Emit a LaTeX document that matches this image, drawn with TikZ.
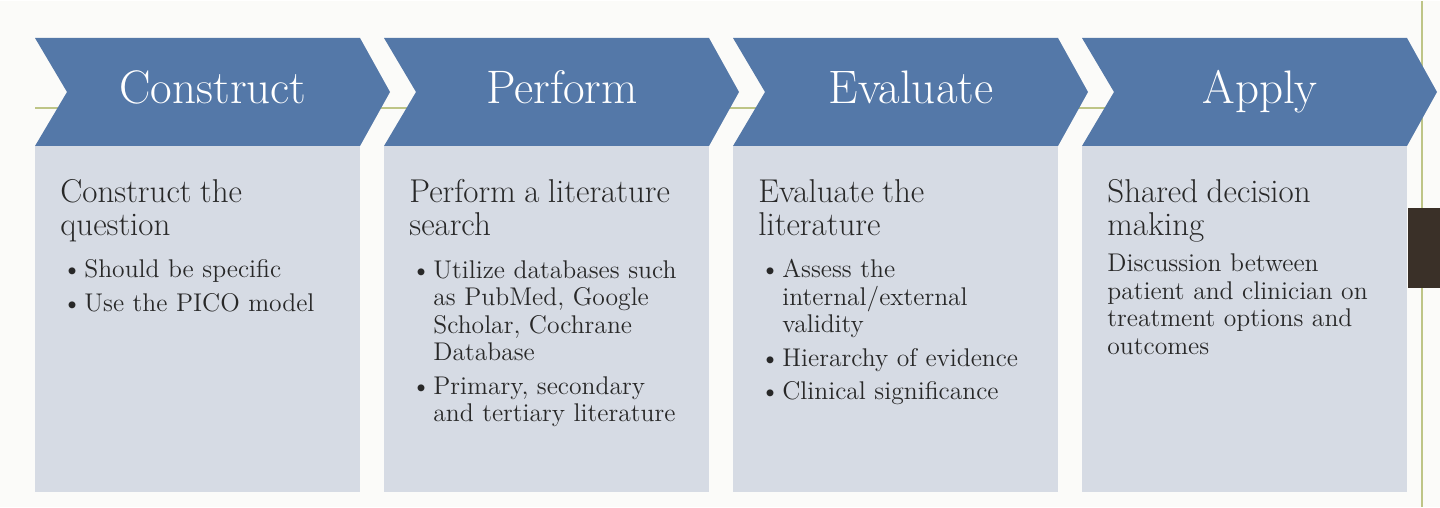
\documentclass[tikz,border=0pt]{standalone}
\usepackage{tikz}
\usetikzlibrary{positioning}
\definecolor{pagebg}{RGB}{251,251,249}
\definecolor{chevblue}{RGB}{84,120,168}
\definecolor{boxgray}{RGB}{214,219,228}
\definecolor{rulegreen}{RGB}{190,197,135}
\definecolor{tabbrown}{RGB}{58,48,40}
\definecolor{bodyink}{RGB}{40,40,40}
\newcommand{\bhead}[1]{{\fontsize{16.5}{16.5}\selectfont #1\par}\vspace{4.5pt}}
\newcommand{\bitem}[1]{\par\vspace{3pt}\noindent\hangindent=12pt\hangafter=1
					\hbox to 12pt{\hspace{1pt}\textbullet\hfil}#1\par}
\newcommand{\stepcol}[3]{\fill[chevblue] (0,37) -- (325,37) -- (355,91) -- (325,145) -- (0,145) -- (32,91) -- cycle;
					\fill[boxgray] (0,145) rectangle (325,491);
					\node[steptitle] (#1title) at (178,103) {#2};
					\node[stepbody] (#1body) at (25,178) {#3};}

\begin{document}
\begin{tikzpicture}[x=0.5pt, y=-0.5pt,
	steptitle/.style = {anchor=base, inner sep=0pt, text=white,
		font=\fontsize{23.5}{26}\selectfont},
	stepbody/.style = {anchor=north west, inner sep=0pt, text width=152pt,
		text=bodyink, font=\fontsize{12.8}{13.75}\selectfont,
		execute at begin node={\parskip=0pt\parindent=0pt}}]

					% page and rules
					\fill[pagebg] (0,0) rectangle (1440,506);
					\draw[rulegreen, line width=0.75pt] (35,107) -- (1422,107);
					\draw[rulegreen, line width=1pt] (1422,0) -- (1422,506);

					\begin{scope}[xshift = 17.5pt]
						\stepcol{construct}{Construct}{\bhead{Construct the\\question}%
							\bitem{Should be specific}%
							\bitem{Use the PICO model}}
					\end{scope}

					\begin{scope}[xshift = 192pt]
						\stepcol{perform}{Perform}{\bhead{Perform a literature\\search}%
							\bitem{Utilize databases such\newline as PubMed, Google\newline Scholar, Cochrane\newline Database}%
							\bitem{Primary, secondary\newline and tertiary literature}}
					\end{scope}

					\begin{scope}[xshift = 366.5pt]
						\stepcol{evaluate}{Evaluate}{\bhead{Evaluate the\\literature}%
							\bitem{Assess the\newline internal/external\newline validity}%
							\bitem{Hierarchy of evidence}%
							\bitem{Clinical significance}}
					\end{scope}

					\begin{scope}[xshift = 541pt]
						\stepcol{apply}{Apply}{\bhead{Shared decision\\making}%
							Discussion between\\patient and clinician on\\treatment options and\\outcomes}
					\end{scope}

					% side tab
					\fill[tabbrown] (1408,207) rectangle (1440,287);

\end{tikzpicture}
\end{document}
